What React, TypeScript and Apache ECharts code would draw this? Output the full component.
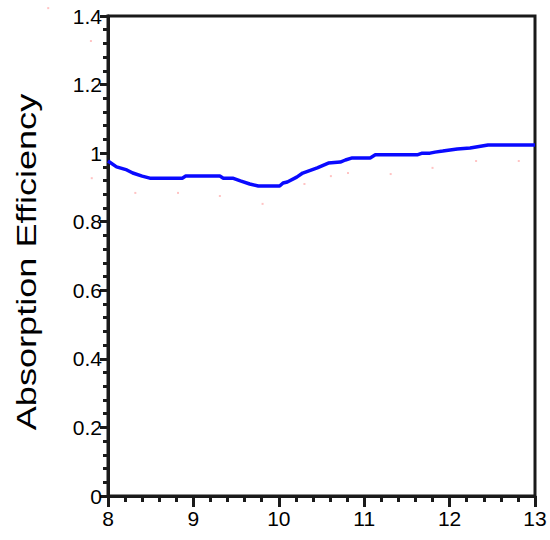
import React, { useEffect, useRef } from "react";
import * as echarts from "echarts";

// Absorption efficiency curve, sampled along the wavelength axis (x, y)
const curveX = [8.0, 8.1, 8.22, 8.29, 8.4, 8.49, 8.87, 8.91, 9.31, 9.35, 9.46, 9.55, 9.66, 9.76, 10.01, 10.05, 10.1, 10.21, 10.28, 10.45, 10.58, 10.72, 10.78, 10.86, 11.07, 11.13, 11.62, 11.68, 11.77, 11.83, 11.92, 12.09, 12.24, 12.45, 13.0];
const curveY = [0.977, 0.96, 0.951, 0.942, 0.933, 0.927, 0.927, 0.933, 0.933, 0.927, 0.927, 0.919, 0.91, 0.904, 0.904, 0.913, 0.916, 0.93, 0.942, 0.957, 0.971, 0.974, 0.98, 0.986, 0.986, 0.995, 0.995, 1.0, 1.0, 1.003, 1.006, 1.012, 1.015, 1.024, 1.024];

// Faint sample markers
const dotX = [7.3, 7.8, 7.81, 8.32, 8.82, 9.31, 9.81, 10.3, 10.61, 10.81, 11.31, 11.8, 12.31, 12.81];
const dotY = [1.423, 1.327, 0.927, 0.884, 0.884, 0.875, 0.852, 0.91, 0.933, 0.942, 0.939, 0.957, 0.977, 0.977];

const xTicks = { min: 8, max: 13, interval: 1 };
const yTicks = { min: 0, max: 1.4, interval: 0.2 };
const yTitle = "Absorption Efficiency";

const FONT = "Arial, 'Liberation Sans', Helvetica, sans-serif";

export default function App() {
  const ref = useRef<HTMLDivElement>(null);

  useEffect(() => {
    if (!ref.current) return;
    const chart = echarts.init(ref.current, undefined, { renderer: "svg" });
    const line = curveX.map((x, i) => [x, curveY[i]]);
    const dots = dotX.map((x, i) => [x, dotY[i]]);

    chart.setOption({
      animation: false,
      backgroundColor: "#ffffff",
      grid: {
        left: 108,
        right: 15,
        top: 16,
        bottom: 44,
        show: true,
        borderColor: "#1a1a1a",
        borderWidth: 3,
        backgroundColor: "transparent",
      },
      xAxis: {
        type: "value",
        min: xTicks.min,
        max: xTicks.max,
        interval: xTicks.interval,
        axisLine: { show: true, onZero: false, lineStyle: { color: "#1a1a1a", width: 3 } },
        axisTick: { show: true, inside: false, length: 11, lineStyle: { color: "#1a1a1a", width: 3 } },
        minorTick: { show: true, splitNumber: 5, length: 6, lineStyle: { color: "#1a1a1a", width: 3 } },
        splitLine: { show: false },
        minorSplitLine: { show: false },
        axisLabel: { color: "#000", fontSize: 21, fontFamily: FONT, margin: 12 },
      },
      yAxis: {
        type: "value",
        min: yTicks.min,
        max: yTicks.max,
        interval: yTicks.interval,
        axisLine: { show: true, onZero: false, lineStyle: { color: "#1a1a1a", width: 3 } },
        axisTick: { show: true, inside: false, length: 8, lineStyle: { color: "#1a1a1a", width: 3 } },
        minorTick: { show: true, splitNumber: 5, length: 5, lineStyle: { color: "#1a1a1a", width: 3 } },
        splitLine: { show: false },
        minorSplitLine: { show: false },
        axisLabel: { color: "#000", fontSize: 21, fontFamily: FONT, margin: 6 },
      },
      graphic: [
        {
          type: "text",
          x: 26,
          y: 262,
          rotation: Math.PI / 2,
          scaleX: 1.29,
          style: {
            text: yTitle,
            fill: "#000",
            font: `28px ${FONT}`,
            textAlign: "center",
            textVerticalAlign: "middle",
          },
        },
      ],
      series: [
        {
          type: "scatter",
          data: dots,
          symbol: "rect",
          symbolSize: 2,
          clip: false,
          itemStyle: { color: "#ffb4b4" },
          silent: true,
          z: 1,
        },
        {
          type: "line",
          data: line,
          showSymbol: false,
          smooth: false,
          lineStyle: { color: "#0a0aff", width: 3.5 },
          z: 3,
        },
      ],
    });
    return () => chart.dispose();
  }, []);

  return (
    <div
      ref={ref}
      style={{ position: "absolute", left: 0, top: 0, width: 550, height: 540 }}
    />
  );
}
